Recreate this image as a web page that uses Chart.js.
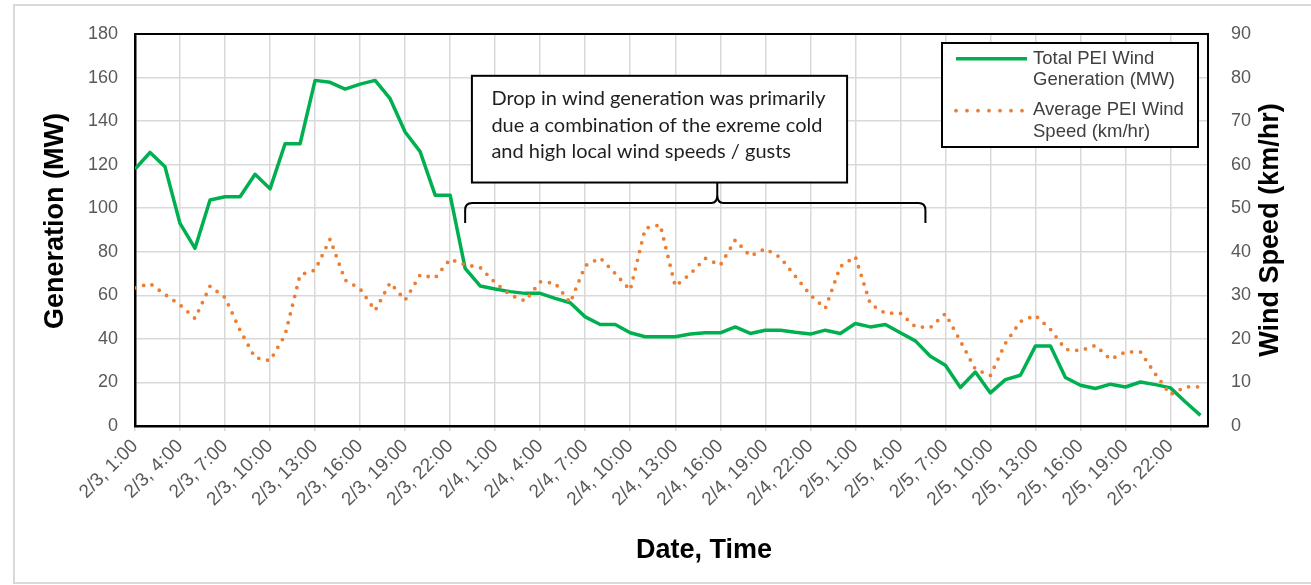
<!DOCTYPE html>
<html>
<head>
<meta charset="utf-8">
<script src="https://cdn.jsdelivr.net/npm/chart.js@4.4.1/dist/chart.umd.min.js"></script>
<style>
  html, body { margin: 0; padding: 0; background: #fff; overflow: hidden; }
  #wrap { position: relative; width: 1311px; height: 585px; }
  #frame { position: absolute; left: 13px; top: 4px; width: 1330px; height: 580px;
           border: 2px solid #d9d9d9; box-sizing: border-box; pointer-events: none; }
  canvas { position: absolute; left: 0; top: 0; }
</style>
</head>
<body>
<div id="wrap">
  <canvas id="chart" width="1311" height="585"></canvas>
  <div id="frame"></div>
</div>
<script>
// Hourly readings, 2/3 1:00 through 2/6 0:00
const generationMW = [
  118, 125.6, 119, 93, 81.6, 103.8, 105.3, 105.3, 115.6, 108.9,
  129.6, 129.6, 158.7, 157.8, 154.7, 157, 158.7, 150.3, 135, 126,
  106, 106, 72.4, 64.3, 62.9, 61.7, 60.9, 60.9, 58.6, 56.6,
  50.1, 46.6, 46.6, 42.8, 41, 41, 41, 42.2, 42.8, 42.8,
  45.5, 42.5, 44, 44, 43, 42.2, 44, 42.5, 47.1, 45.5,
  46.6, 42.8, 39.1, 32, 27.9, 17.7, 24.8, 15.2, 21.3, 23.3,
  36.7, 36.7, 22.3, 18.7, 17.2, 19.2, 17.9, 20.2, 19, 17.5,
  11, 4.9
];
const windSpeedKmh = [
  31.7, 32.7, 30.2, 27.8, 24.7, 32.1, 29.5, 22, 15.7, 15,
  20.9, 34.7, 35.8, 42.9, 33.5, 31.5, 26.5, 32.9, 28.9, 34.7,
  34, 38.3, 37, 36.4, 32.9, 30.1, 28.7, 33.1, 32.8, 28.3,
  36.8, 38.6, 35, 31.2, 45.4, 46.2, 32.1, 34.9, 38.5, 36.9,
  42.7, 39, 40.7, 38.7, 34.4, 30.1, 27, 36.6, 38.9, 28,
  25.9, 25.9, 22.8, 22.6, 25.8, 19.5, 13, 11.6, 19, 24,
  25.4, 22.2, 17.6, 17.3, 18.5, 15.3, 17, 17, 11.9, 7.2,
  9, 9
];
// Axis labels, one every three hours
const tickLabels = [
  '2/3, 1:00', '2/3, 4:00', '2/3, 7:00', '2/3, 10:00', '2/3, 13:00', '2/3, 16:00', '2/3, 19:00', '2/3, 22:00',
  '2/4, 1:00', '2/4, 4:00', '2/4, 7:00', '2/4, 10:00', '2/4, 13:00', '2/4, 16:00', '2/4, 19:00', '2/4, 22:00',
  '2/5, 1:00', '2/5, 4:00', '2/5, 7:00', '2/5, 10:00', '2/5, 13:00', '2/5, 16:00', '2/5, 19:00', '2/5, 22:00'
];
const seriesNames = ['Total PEI Wind Generation (MW)', 'Average PEI Wind Speed (km/hr)'];
const legendLines = [['Total PEI Wind', 'Generation (MW)'], ['Average PEI Wind', 'Speed (km/hr)']];
const noteLines = [
  'Drop in wind generation was primarily',
  'due a combination of the exreme cold',
  'and high local wind speeds / gusts'
];

const GREEN = '#00b050';
const ORANGE = '#ed7d31';
const GRID = '#d9d9d9';
const TICK = '#595959';
const SANS = "'Liberation Sans', Arial, sans-serif";
const TITLE_FONT = 'bold 27px ' + SANS;
const DOT = [0, 9];

const overlay = {
  id: 'overlay',
  afterDraw(chart) {
    const { ctx, chartArea: a, scales: { x, y, y2 } } = chart;
    ctx.save();

    // top edge of the plot frame
    ctx.strokeStyle = '#000';
    ctx.lineWidth = 2;
    ctx.beginPath();
    ctx.moveTo(a.left, a.top);
    ctx.lineTo(a.right, a.top);
    ctx.stroke();

    // explanatory note
    const bx0 = x.getPixelForValue(22.45), bx1 = x.getPixelForValue(47.45);
    const by0 = y.getPixelForValue(160.8), by1 = y.getPixelForValue(111.8);
    ctx.fillStyle = '#fff';
    ctx.fillRect(bx0, by0, bx1 - bx0, by1 - by0);
    ctx.strokeStyle = '#000';
    ctx.lineWidth = 2;
    ctx.strokeRect(bx0, by0, bx1 - bx0, by1 - by0);
    ctx.fillStyle = '#1f1f1f';
    ctx.font = '20px Lato, sans-serif';
    ctx.textAlign = 'left';
    ctx.textBaseline = 'middle';
    noteLines.forEach((t, k) => ctx.fillText(t, bx0 + 19.5, by0 + 23 + k * 26.4));

    // brace spanning the drop period
    const l = x.getPixelForValue(22), r = x.getPixelForValue(52.67);
    const mid = x.getPixelForValue(38.8);
    const hy = y.getPixelForValue(102.4), ly = y.getPixelForValue(93.2);
    ctx.lineWidth = 2;
    ctx.beginPath();
    ctx.moveTo(l, ly);
    ctx.lineTo(l, hy + 7);
    ctx.quadraticCurveTo(l, hy, l + 7, hy);
    ctx.lineTo(mid - 6, hy);
    ctx.quadraticCurveTo(mid, hy, mid, hy - 8);
    ctx.lineTo(mid, by1);
    ctx.moveTo(mid, hy - 8);
    ctx.quadraticCurveTo(mid, hy, mid + 6, hy);
    ctx.lineTo(r - 7, hy);
    ctx.quadraticCurveTo(r, hy, r, hy + 7);
    ctx.lineTo(r, ly);
    ctx.stroke();

    // legend
    const lx = a.right - 266, ly0 = a.top + 9, lw = 256, lh = 104;
    ctx.fillStyle = '#fff';
    ctx.fillRect(lx, ly0, lw, lh);
    ctx.strokeStyle = '#000';
    ctx.lineWidth = 2;
    ctx.strokeRect(lx, ly0, lw, lh);
    const ds = chart.data.datasets;
    ctx.lineCap = 'butt';
    ctx.strokeStyle = ds[0].borderColor;
    ctx.lineWidth = ds[0].borderWidth;
    ctx.setLineDash([]);
    ctx.beginPath();
    ctx.moveTo(lx + 14, ly0 + 15.7);
    ctx.lineTo(lx + 85, ly0 + 15.7);
    ctx.stroke();
    ctx.strokeStyle = ds[1].borderColor;
    ctx.lineWidth = ds[1].borderWidth;
    ctx.lineCap = 'round';
    ctx.setLineDash([0, 11]);
    ctx.beginPath();
    ctx.moveTo(lx + 14, ly0 + 67.7);
    ctx.lineTo(lx + 82, ly0 + 67.7);
    ctx.stroke();
    ctx.setLineDash([]);
    ctx.fillStyle = '#404040';
    ctx.font = '18.5px ' + SANS;
    ctx.textAlign = 'left';
    ctx.textBaseline = 'middle';
    ctx.fillText(legendLines[0][0], lx + 91, ly0 + 15.5);
    ctx.fillText(legendLines[0][1], lx + 91, ly0 + 37);
    ctx.fillText(legendLines[1][0], lx + 91, ly0 + 67.3);
    ctx.fillText(legendLines[1][1], lx + 91, ly0 + 88.7);

    // axis titles
    ctx.fillStyle = '#000';
    ctx.font = TITLE_FONT;
    ctx.textAlign = 'center';
    ctx.textBaseline = 'middle';
    ctx.fillText('Date, Time', 704, 551);
    ctx.save();
    ctx.translate(56, 221);
    ctx.rotate(-Math.PI / 2);
    ctx.fillText('Generation (MW)', 0, 0);
    ctx.restore();
    ctx.translate(y2.right - 40, (a.top + a.bottom) / 2);
    ctx.rotate(-Math.PI / 2);
    ctx.fillText('Wind Speed (km/hr)', 0, 0);
    ctx.restore();
  }
};

new Chart(document.getElementById('chart'), {
  type: 'line',
  data: {
    datasets: [
      {
        label: seriesNames[0],
        data: generationMW.map((v, i) => ({ x: i, y: v })),
        yAxisID: 'y',
        borderColor: GREEN,
        borderWidth: 3.5,
        borderJoinStyle: 'round',
        pointRadius: 0,
        tension: 0,
        order: 1
      },
      {
        label: seriesNames[1],
        data: windSpeedKmh.map((v, i) => ({ x: i, y: v })),
        yAxisID: 'y2',
        borderColor: ORANGE,
        borderWidth: 3.8,
        borderDash: DOT,
        borderCapStyle: 'round',
        pointRadius: 0,
        tension: 0,
        order: 0
      }
    ]
  },
  options: {
    responsive: false,
    animation: false,
    devicePixelRatio: 1,
    layout: { padding: { top: 34, left: 0, right: 0, bottom: 0 } },
    plugins: { legend: { display: false }, tooltip: { enabled: false } },
    scales: {
      x: {
        type: 'linear',
        position: 'bottom',
        min: 0,
        max: 71.5,
        afterBuildTicks: (s) => { s.ticks = tickLabels.map((_, k) => ({ value: k * 3 })); },
        afterFit: (s) => { s.height = 159; },
        ticks: {
          autoSkip: false,
          minRotation: 45,
          maxRotation: 45,
          color: TICK,
          font: { family: SANS, size: 19 },
          padding: 4,
          callback: (v) => tickLabels[Math.round(v / 3)]
        },
        grid: { color: GRID, lineWidth: 1.5, drawTicks: true, tickLength: 5, tickColor: GRID },
        border: { color: '#000', width: 2.5 }
      },
      y: {
        position: 'left',
        min: 0,
        max: 180,
        afterFit: (s) => { s.width = 135; },
        ticks: { stepSize: 20, color: TICK, font: { family: SANS, size: 18 }, padding: 17 },
        grid: { color: GRID, lineWidth: 1.5, drawTicks: false },
        border: { color: '#000', width: 2.5 }
      },
      y2: {
        position: 'right',
        min: 0,
        max: 90,
        afterFit: (s) => { s.width = 103; },
        ticks: { stepSize: 10, color: TICK, font: { family: SANS, size: 18 }, padding: 15 },
        grid: { display: false, drawOnChartArea: false },
        border: { color: '#000', width: 2 }
      }
    }
  },
  plugins: [overlay]
});
</script>
</body>
</html>
